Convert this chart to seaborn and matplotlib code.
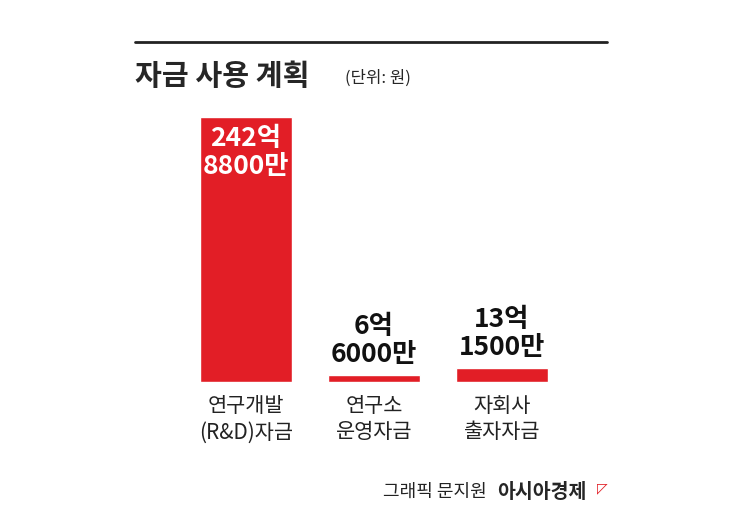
import matplotlib
matplotlib.use("Agg")
import matplotlib.pyplot as plt
import seaborn as sns
import pandas as pd

categories = ["연구개발\n(R&D)자금", "연구소\n운영자금", "자회사\n출자자금"]
values = [242.88, 6.6, 13.15]  # 억 원
value_labels = ["242억\n8800만", "6억\n6000만", "13억\n1500만"]

sns.set_style("white")
plt.rcParams["font.family"] = ["Noto Sans CJK KR", "DejaVu Sans"]

fig = plt.figure(figsize=(7.45, 5.26), dpi=100)
ax = fig.add_axes([182 / 745, 144 / 526, 384 / 745, 265 / 526])
df = pd.DataFrame({"cat": categories, "val": values})
sns.barplot(data=df, x="cat", y="val", color="#e21e26", saturation=1, width=0.72, ax=ax)
ax.set_xlim(-0.5, 2.5)
ax.set_ylim(0, 242.88)
ax.axis("off")

for i, (v, lab) in enumerate(zip(values, value_labels)):
    if v > 100:
        ax.text(i, v - 7, lab, ha="center", va="top", color="white",
                fontsize=19, fontweight="bold", linespacing=1.05)
    else:
        ax.text(i, v + 6, lab, ha="center", va="bottom", color="#111111",
                fontsize=19, fontweight="bold", linespacing=1.05)
    ax.text(i, -12, categories[i], ha="center", va="top", color="#222222",
            fontsize=15, linespacing=1.25)

fig.add_artist(plt.Line2D([135 / 745, 607 / 745], [1 - 42 / 526] * 2, color="#222222", lw=2))
fig.text(135 / 745, 1 - 76 / 526, "자금 사용 계획", fontsize=21, fontweight="bold", va="center")
fig.text(345 / 745, 1 - 78 / 526, "(단위: 원)", fontsize=12, va="center")
fig.text(383 / 745, 1 - 492 / 526, "그래픽 문지원", fontsize=13, va="center", color="#222222")
fig.text(497 / 745, 1 - 492 / 526, "아시아경제", fontsize=14, fontweight="bold", va="center")
fig.text(597 / 745, 1 - 488 / 526, "◸", fontsize=10, va="center", color="#e21e26",
         family=["DejaVu Sans"])

fig.savefig("out.png", dpi=100, facecolor="white")
